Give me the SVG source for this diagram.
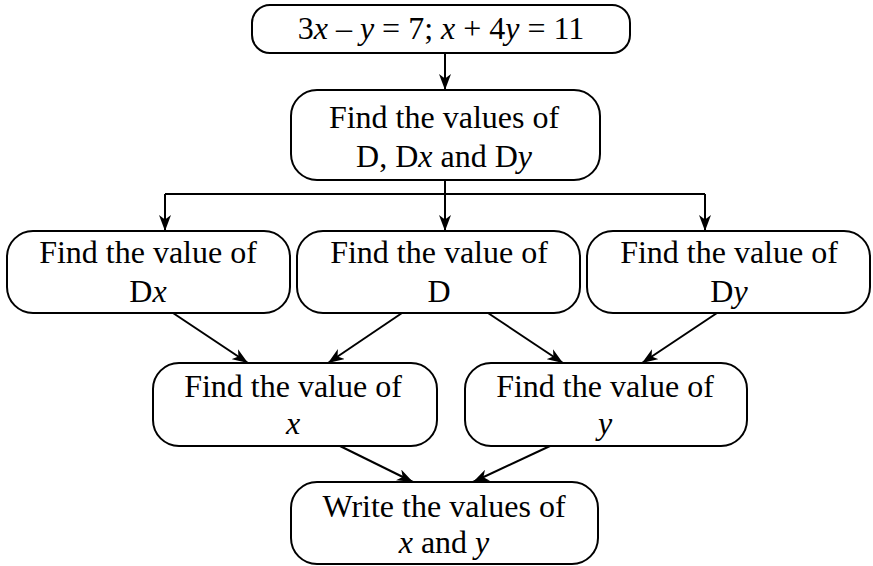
<svg xmlns="http://www.w3.org/2000/svg" width="873" height="566" viewBox="0 0 873 566">
<style>
.box{fill:#fff;stroke:#000;stroke-width:2}
.t{font-family:"Liberation Serif","Times New Roman",serif;font-size:32px;text-anchor:middle;fill:#000}
.i{font-style:italic}
.c{stroke:#000;stroke-width:2;fill:none}
</style>
<defs>
<marker id="ah" viewBox="0 0 16 12" markerWidth="16" markerHeight="12" refX="16" refY="6" orient="auto" markerUnits="userSpaceOnUse">
<path d="M0,0 L16,6 L0,12 L4.5,6 z" fill="#000"/>
</marker>
</defs>
<rect width="873" height="566" fill="#fff"/>
<g id="connectors">
<line class="c" x1="445" y1="53" x2="445" y2="90" marker-end="url(#ah)"/>
<polyline class="c" points="445,180 445,194"/>
<line class="c" x1="165" y1="194" x2="705" y2="194"/>
<line class="c" x1="165" y1="194" x2="165" y2="231" marker-end="url(#ah)"/>
<line class="c" x1="445" y1="194" x2="445" y2="231" marker-end="url(#ah)"/>
<line class="c" x1="705" y1="194" x2="705" y2="231" marker-end="url(#ah)"/>
<line class="c" x1="173" y1="313" x2="248" y2="363" marker-end="url(#ah)"/>
<line class="c" x1="402" y1="313" x2="328" y2="363" marker-end="url(#ah)"/>
<line class="c" x1="488" y1="313" x2="563" y2="363" marker-end="url(#ah)"/>
<line class="c" x1="717" y1="313" x2="642" y2="363" marker-end="url(#ah)"/>
<line class="c" x1="340" y1="446" x2="413" y2="482" marker-end="url(#ah)"/>
<line class="c" x1="550" y1="446" x2="473" y2="482" marker-end="url(#ah)"/>
</g>
<g id="start">
<rect class="box" x="252" y="5" width="378" height="48" rx="18"/>
<text class="t" x="441" y="39">3<tspan class="i">x</tspan> – <tspan class="i">y</tspan> = 7; <tspan class="i">x</tspan> + 4<tspan class="i">y</tspan> = 11</text>
</g>
<g id="findD">
<rect class="box" x="291" y="90" width="309" height="90" rx="26"/>
<text class="t" x="444" y="128">Find the values of</text>
<text class="t" x="444" y="167">D, D<tspan class="i">x</tspan> and D<tspan class="i">y</tspan></text>
</g>
<g id="findDx">
<rect class="box" x="7" y="231" width="283" height="82" rx="26"/>
<text class="t" x="148" y="263">Find the value of</text>
<text class="t" x="148" y="302">D<tspan class="i">x</tspan></text>
</g>
<g id="findDval">
<rect class="box" x="297" y="231" width="283" height="82" rx="26"/>
<text class="t" x="439" y="263">Find the value of</text>
<text class="t" x="439" y="302">D</text>
</g>
<g id="findDy">
<rect class="box" x="587" y="231" width="283" height="82" rx="26"/>
<text class="t" x="729" y="263">Find the value of</text>
<text class="t" x="729" y="302">D<tspan class="i">y</tspan></text>
</g>
<g id="findX">
<rect class="box" x="153" y="363" width="284" height="83" rx="26"/>
<text class="t" x="293" y="397">Find the value of</text>
<text class="t i" x="293" y="434">x</text>
</g>
<g id="findY">
<rect class="box" x="465" y="363" width="282" height="83" rx="26"/>
<text class="t" x="605" y="397">Find the value of</text>
<text class="t i" x="605" y="434">y</text>
</g>
<g id="write">
<rect class="box" x="291" y="482" width="307" height="82" rx="26"/>
<text class="t" x="444" y="517">Write the values of</text>
<text class="t" x="444" y="553"><tspan class="i">x</tspan> and <tspan class="i">y</tspan></text>
</g>
</svg>
